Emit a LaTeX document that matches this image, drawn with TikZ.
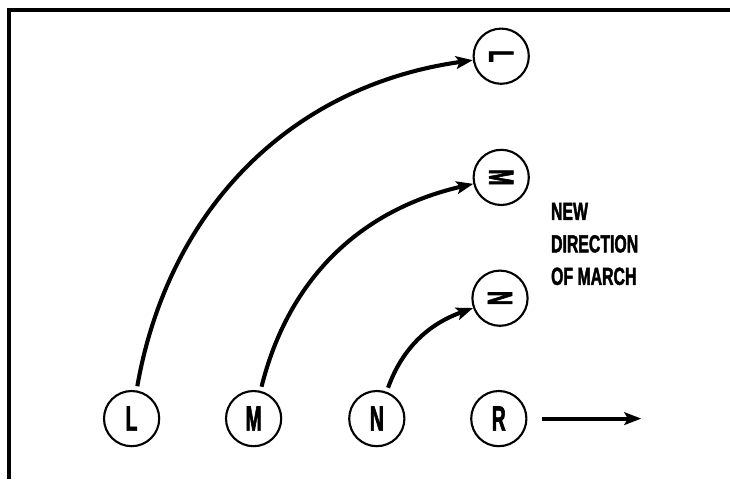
\documentclass[tikz,border=0pt]{standalone}
\usepackage{fontspec}
\usepackage{tikz}
\usetikzlibrary{arrows.meta}
\newfontfamily\marchfont[FakeStretch=0.64, FakeBold=1.6]{Liberation Sans}
\newfontfamily\unitfont[FakeStretch=0.55, FakeBold=1.6]{Liberation Sans}

\begin{document}
\begin{tikzpicture}[
  unit/.style={circle, draw, line width=1.5pt,
    minimum size=1.38cm, inner sep=0pt,
    font=\unitfont\bfseries\fontsize{25}{25}\selectfont},
  arr/.style={-{Stealth[length=12pt, width=9pt, inset=2.5pt]}, line width=2.9pt},
  lbl/.style={anchor=north west, inner sep=0pt, align=left,
    font=\marchfont\bfseries\fontsize{17.6}{23.1}\selectfont}
]
\useasboundingbox (0,0) rectangle (18.25,11.975);

% Frame: left and top edges only
\draw[line width=2.4pt] (0.225,0) -- (0.225,11.725) -- (18.25,11.725);

% Old line along the bottom
\node[unit] (L) at ( 3.29, 1.51) {L};
\node[unit] (M) at ( 6.34, 1.51) {M};
\node[unit] (N) at ( 9.42, 1.51) {N};
\node[unit] (R) at (12.47, 1.51) {R};

% New line: units turned, stacked at the right
\node[unit] (L2) at (12.53, 10.57) {\rotatebox{-90}{L}};
\node[unit] (M2) at (12.53,  7.54) {\rotatebox{-90}{M}};
\node[unit] (N2) at (12.50,  4.52) {\rotatebox{-90}{N}};

\node[lbl] (dir) at (13.77, 6.91) {NEW\\DIRECTION\\OF MARCH};

% Wheeling paths
\draw[arr, shorten <=3pt] (L) to[out=80, in=188] (L2);
\draw[arr, shorten <=3pt] (M) to[out=76, in=193] (M2);
\draw[arr, shorten <=3pt] (N) to[out=70, in=200] (N2);

% Pivot R keeps facing right
\coordinate (Rend) at (16.03, 1.51);
\draw[arr, shorten <=10pt] (R) -- (Rend);

\end{tikzpicture}
\end{document}
